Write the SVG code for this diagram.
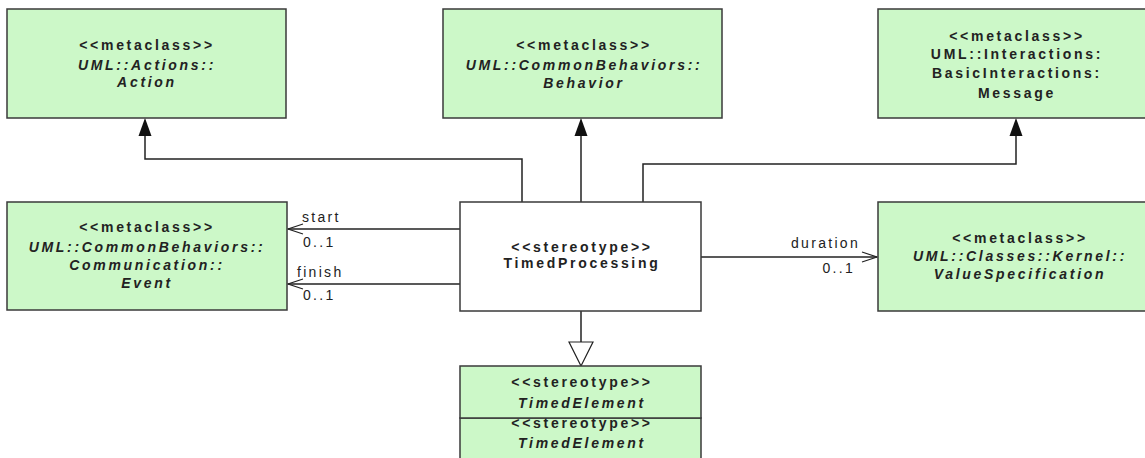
<svg xmlns="http://www.w3.org/2000/svg" width="1145" height="458" viewBox="0 0 1145 458">
<style>
.box{fill:#ccf8c8;stroke:#3a3a3a;stroke-width:1.5}
.wbox{fill:#ffffff;stroke:#3a3a3a;stroke-width:1.5}
.t{font-family:"Liberation Sans",Arial,sans-serif;font-size:14px;font-weight:bold;fill:#222;text-anchor:middle;letter-spacing:2.7px}
.i{font-style:italic}
.lbl{font-family:"Liberation Sans",Arial,sans-serif;font-size:14px;fill:#222;letter-spacing:2.3px}
.end{text-anchor:end}
.ln{fill:none;stroke:#222;stroke-width:1.5}
.open{fill:none;stroke:#222;stroke-width:1.2}
</style>
<rect width="1145" height="458" fill="#ffffff"/>
<g id="connectors">
<polyline class="ln" points="522,202 522,159 145,159 145,134"/>
<polygon points="145,118 138.5,136 151.5,136" fill="#111"/>
<polyline class="ln" points="581,202 581,134"/>
<polygon points="581,118 574.5,136 587.5,136" fill="#111"/>
<polyline class="ln" points="643,202 643,164 1016,164 1016,134"/>
<polygon points="1016,118 1009.5,136 1022.5,136" fill="#111"/>
<line class="ln" x1="460" y1="229" x2="288" y2="229"/>
<polyline class="open" points="303,224 288,229 303,234"/>
<line class="ln" x1="460" y1="284" x2="288" y2="284"/>
<polyline class="open" points="303,279 288,284 303,289"/>
<line class="ln" x1="701" y1="257" x2="877" y2="257"/>
<polyline class="open" points="862,252 877,257 862,262"/>
<line class="ln" x1="581" y1="311" x2="581" y2="342"/>
<polygon points="581,366 569,342 593,342" fill="#ffffff" stroke="#222" stroke-width="1.2"/>
<text class="lbl" x="302" y="222">start</text>
<text class="lbl" x="303" y="247">0..1</text>
<text class="lbl" x="297" y="277">finish</text>
<text class="lbl" x="303" y="300">0..1</text>
<text class="lbl end" x="860" y="248">duration</text>
<text class="lbl end" x="855" y="273">0..1</text>
</g>
<g id="action">
<rect class="box" x="7" y="9" width="279" height="109"/>
<text class="t" x="147" y="50">&lt;&lt;metaclass&gt;&gt;</text>
<text class="t i" x="147" y="70">UML::Actions::</text>
<text class="t i" x="147" y="87">Action</text>
</g>
<g id="behavior">
<rect class="box" x="443" y="9" width="279" height="109"/>
<text class="t" x="584" y="50">&lt;&lt;metaclass&gt;&gt;</text>
<text class="t i" x="584" y="70">UML::CommonBehaviors::</text>
<text class="t i" x="584" y="88">Behavior</text>
</g>
<g id="message">
<rect class="box" x="878" y="9" width="279" height="109"/>
<text class="t" x="1017" y="41">&lt;&lt;metaclass&gt;&gt;</text>
<text class="t" x="1017" y="59">UML::Interactions:</text>
<text class="t" x="1017" y="78">BasicInteractions:</text>
<text class="t" x="1017" y="98">Message</text>
</g>
<g id="event">
<rect class="box" x="7" y="202" width="280" height="108"/>
<text class="t" x="147" y="232">&lt;&lt;metaclass&gt;&gt;</text>
<text class="t i" x="147" y="252">UML::CommonBehaviors::</text>
<text class="t i" x="147" y="270">Communication::</text>
<text class="t i" x="147" y="288">Event</text>
</g>
<g id="timedprocessing">
<rect class="wbox" x="460" y="202" width="241" height="109"/>
<text class="t" x="582" y="252">&lt;&lt;stereotype&gt;&gt;</text>
<text class="t" x="582" y="268">TimedProcessing</text>
</g>
<g id="valuespecification">
<rect class="box" x="878" y="202" width="279" height="109"/>
<text class="t" x="1020" y="243">&lt;&lt;metaclass&gt;&gt;</text>
<text class="t i" x="1020" y="261">UML::Classes::Kernel::</text>
<text class="t i" x="1020" y="279">ValueSpecification</text>
</g>
<g id="timedelement2">
<rect class="box" x="460" y="418" width="241" height="52"/>
<text class="t" x="582" y="428">&lt;&lt;stereotype&gt;&gt;</text>
<text class="t i" x="582" y="448">TimedElement</text>
</g>
<g id="timedelement">
<rect class="box" x="460" y="366" width="241" height="52"/>
<text class="t" x="582" y="387">&lt;&lt;stereotype&gt;&gt;</text>
<text class="t i" x="582" y="408">TimedElement</text>
</g>
</svg>
